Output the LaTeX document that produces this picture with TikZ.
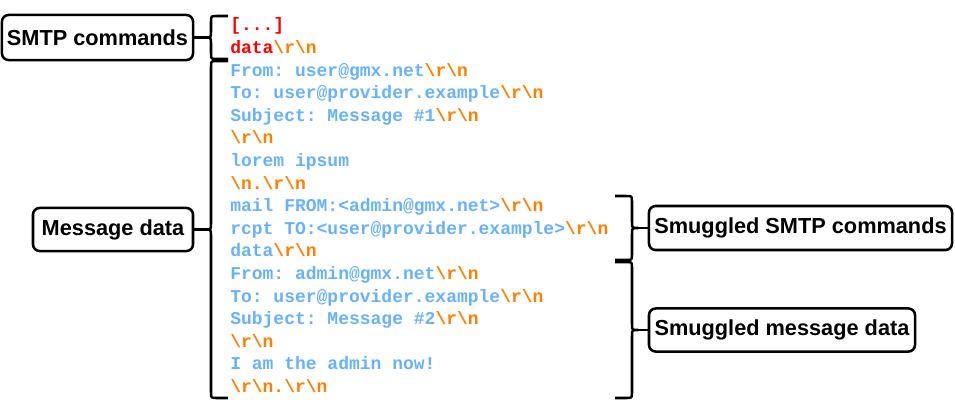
\documentclass[tikz,border=0pt]{standalone}
\usepackage{fontspec}
\setmainfont{Liberation Sans}
\setmonofont{Liberation Mono}
\usepackage{xcolor}
\definecolor{cmdred}{HTML}{FF0000}
\definecolor{msgblue}{HTML}{66B2FF}
\definecolor{crlforange}{HTML}{FF8000}
\newcommand{\cmd}[1]{\textcolor{cmdred}{#1}}
\newcommand{\crlf}{\textcolor{crlforange}{\textbackslash r\textbackslash n}}
\newcommand{\lfeed}{\textcolor{crlforange}{\textbackslash n}}
% curly brackets: #1 spine x, #2 top y, #3 bottom y, #4 name of the tip
\newcommand{\lbrkt}[4]{%
  \draw[brkt] ({#1+17},#2) -- ({#1+6},#2) .. controls (#1,#2) .. (#1,{#2+6})
    -- (#1,{(#2+#3)/2-6}) .. controls (#1,{(#2+#3)/2}) .. ({#1-6},{(#2+#3)/2}) coordinate (#4)
    .. controls (#1,{(#2+#3)/2}) .. (#1,{(#2+#3)/2+6}) -- (#1,{#3-6})
    .. controls (#1,#3) .. ({#1+6},#3) -- ({#1+17},#3);}
\newcommand{\rbrkt}[4]{%
  \draw[brkt] ({#1-17},#2) -- ({#1-6},#2) .. controls (#1,#2) .. (#1,{#2+6})
    -- (#1,{(#2+#3)/2-6}) .. controls (#1,{(#2+#3)/2}) .. ({#1+6},{(#2+#3)/2}) coordinate (#4)
    .. controls (#1,{(#2+#3)/2}) .. (#1,{(#2+#3)/2+6}) -- (#1,{#3-6})
    .. controls (#1,#3) .. ({#1-6},#3) -- ({#1-17},#3);}
\tikzset{
  brkt/.style={line width=1.9pt, line join=round},
  labelbox/.style={draw, line width=1.9pt, rounded corners=5pt, inner sep=0pt,
    font=\bfseries\fontsize{16.3}{19}\selectfont},
  codeline/.style={anchor=base west, inner sep=0pt, text=msgblue,
    font=\ttfamily\bfseries\fontsize{13.5}{16}\selectfont}
}

\begin{document}
\begin{tikzpicture}[x=0.75pt,y=-0.75pt,declare function={firstline=30.8;lineskip=22.6;}]
	\useasboundingbox (0,0) rectangle (955,412);
	% the SMTP dialogue
	\foreach \txt [count=\i from 0] in {
		{\cmd{[...]}},
		{\cmd{data}\crlf},
		{From: user@gmx.net\crlf},
		{To: user@provider.example\crlf},
		{Subject: Message \#1\crlf},
		{\crlf},
		{lorem ipsum},
		{\lfeed\textcolor{crlforange}{.}\crlf},
		{mail FROM:<admin@gmx.net>\crlf},
		{rcpt TO:<user@provider.example>\crlf},
		{data\crlf},
		{From: admin@gmx.net\crlf},
		{To: user@provider.example\crlf},
		{Subject: Message \#2\crlf},
		{\crlf},
		{I am the admin now!},
		{\crlf\textcolor{crlforange}{.}\crlf}}
		\node[codeline] (line\i) at (230,{firstline+lineskip*\i}) {\txt};
	% labels
	\node[labelbox, minimum width=143.3pt, minimum height=33.8pt] (smtp) at (97.5,37.5) {SMTP commands};
	\node[labelbox, minimum width=120pt, minimum height=32.3pt] (msgdata) at (113,229.5) {Message data};
	\node[labelbox, minimum width=227.3pt, minimum height=33pt] (smugcmd) at (800.5,228) {Smuggled SMTP commands};
	\node[labelbox, minimum width=199.5pt, minimum height=32.3pt] (smugdata) at (782,330) {Smuggled message data};
	% brackets
	\lbrkt{211}{16}{59}{tipsmtp}
	\lbrkt{211}{61}{398}{tipmsg}
	\rbrkt{632}{196}{260}{tipsmugcmd}
	\rbrkt{632}{262}{398}{tipsmugdata}
	\draw[brkt] (smtp) -- (tipsmtp);
	\draw[brkt] (msgdata) -- (tipmsg);
	\draw[brkt] (smugcmd) -- (tipsmugcmd);
	\draw[brkt] (smugdata) -- (tipsmugdata);
\end{tikzpicture}
\end{document}
